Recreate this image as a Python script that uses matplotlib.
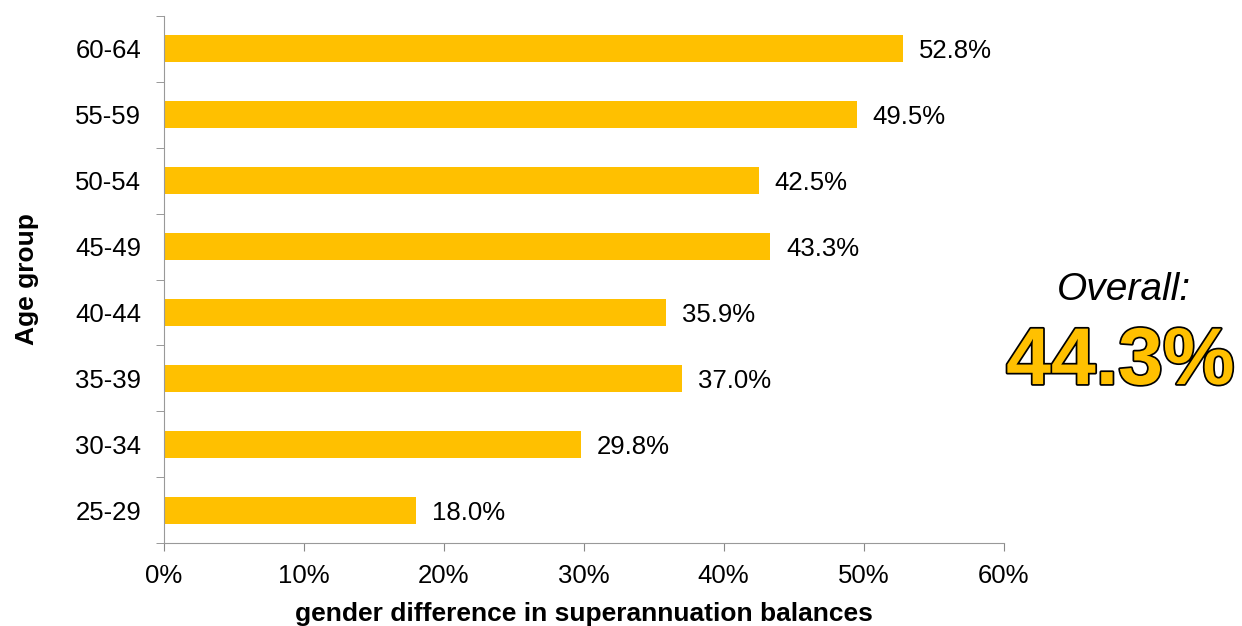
import numpy as np
import matplotlib.pyplot as plt
import matplotlib.patheffects as pe

plt.rcParams['font.family'] = ['Liberation Sans', 'DejaVu Sans']

age_groups = ['25-29', '30-34', '35-39', '40-44', '45-49', '50-54', '55-59', '60-64']
gap_pct = [18.0, 29.8, 37.0, 35.9, 43.3, 42.5, 49.5, 52.8]
overall = 44.3
xticks = [0, 10, 20, 30, 40, 50, 60]

fig = plt.figure(figsize=(12.42, 6.26), dpi=100)
ax = fig.add_axes([0.132, 0.1326, 0.676, 0.8418])

y = np.arange(len(age_groups))
bars = ax.barh(y, gap_pct, height=0.41, color='#FFC000')

for yi, v in zip(y, gap_pct):
    ax.text(v + 1.15, yi, f'{v:.1f}%', va='center_baseline', ha='left', fontsize=18.5)

ax.set_xlim(0, 60)
ax.set_ylim(-0.5, len(age_groups) - 0.5)
ax.set_xticks(xticks)
ax.set_xticklabels([f'{t}%' for t in xticks], fontsize=18.5)
ax.set_yticks(y)
ax.set_yticklabels(age_groups, fontsize=18.5, va='center_baseline')
ax.set_yticks(np.arange(-0.5, len(age_groups)), minor=True)

ax.tick_params(axis='y', which='major', length=0, pad=16.5)
ax.tick_params(axis='y', which='minor', length=6, color='#888888', direction='out')
ax.tick_params(axis='x', which='major', length=6, color='#888888', direction='out', pad=9)

for s in ['top', 'right']:
    ax.spines[s].set_visible(False)
ax.spines['left'].set_color('#999999')
ax.spines['bottom'].set_color('#999999')

ax.set_xlabel('gender difference in superannuation balances', fontsize=19, fontweight='bold', labelpad=10)
ax.set_ylabel('Age group', fontsize=19, fontweight='bold', labelpad=26)

fig.text(0.905, 0.537, 'Overall:', fontsize=28, style='italic', ha='center', va='center')
fig.text(0.902, 0.42, f'{overall:.1f}%', fontsize=58, fontweight='bold', ha='center', va='center',
         color='#FFC000', path_effects=[pe.withStroke(linewidth=2.5, foreground='black')])

fig.savefig('out.png', dpi=100)
